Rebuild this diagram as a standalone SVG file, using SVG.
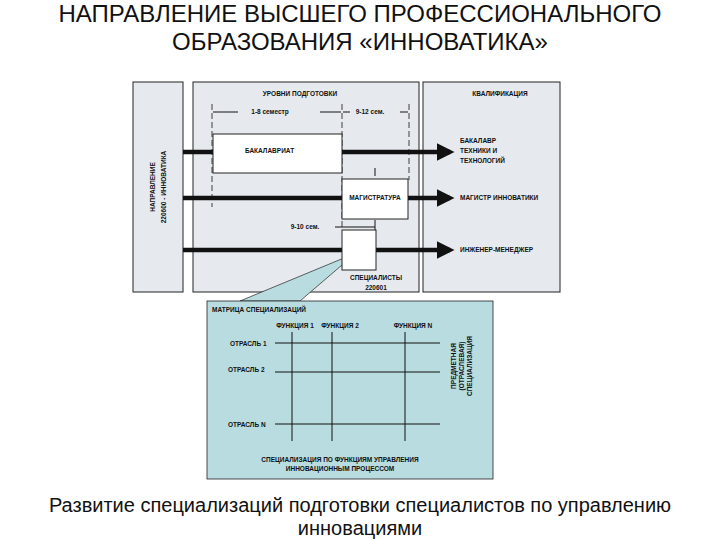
<svg xmlns="http://www.w3.org/2000/svg" width="720" height="540" viewBox="0 0 720 540">
<style>
.p{fill:#e6eaee;stroke:#222;stroke-width:1}
.b{fill:#fff;stroke:#222;stroke-width:1}
.t{font-family:"Liberation Sans",Arial,sans-serif;font-weight:bold;font-size:6.5px;fill:#111}
.th{stroke:#111;stroke-width:4.5}
.d{stroke:#111;stroke-width:0.8;stroke-dasharray:6,3}
.g{stroke:#111;stroke-width:1}
.big{font-family:"Liberation Sans",Arial,sans-serif;fill:#111}
</style>
<defs>
<marker id="ah" markerWidth="4" markerHeight="4" refX="3" refY="2" orient="auto" markerUnits="strokeWidth"><path d="M0,0 L4,2 L0,4 Z" fill="#111"/></marker>
</defs>
<rect width="720" height="540" fill="#fff"/>
<text class="big" font-size="24" x="360" y="22" text-anchor="middle">НАПРАВЛЕНИЕ ВЫСШЕГО ПРОФЕССИОНАЛЬНОГО</text>
<text class="big" font-size="24" x="360" y="50" text-anchor="middle">ОБРАЗОВАНИЯ «ИННОВАТИКА»</text>
<g id="panel-left"><rect class="p" x="133" y="82" width="50" height="210"/>
<text class="t" font-size="8.5" transform="translate(155,187) rotate(-90)" text-anchor="middle">НАПРАВЛЕНИЕ</text>
<text class="t" font-size="8.5" transform="translate(166,187) rotate(-90)" text-anchor="middle">220600 - ИННОВАТИКА</text></g>
<g id="panel-mid"><rect class="p" x="193" y="82" width="226" height="210"/>
<text class="t" font-size="7" x="300" y="96" text-anchor="middle">УРОВНИ ПОДГОТОВКИ</text></g>
<g id="panel-right"><rect class="p" x="423" y="82" width="137" height="210"/>
<text class="t" font-size="7" x="500" y="96" text-anchor="middle">КВАЛИФИКАЦИЯ</text></g>
<g id="connectors">
<line class="d" x1="212" y1="104" x2="212" y2="207"/>
<line class="d" x1="342" y1="104" x2="342" y2="230"/>
<line class="d" x1="409" y1="104" x2="409" y2="180"/>
<line class="g" x1="375" y1="168" x2="375" y2="176"/>
<line class="g" x1="375" y1="220" x2="375" y2="230"/>
<line class="g" x1="213" y1="112" x2="238" y2="112"/><line class="g" x1="320" y1="112" x2="341" y2="112"/>
<line class="g" x1="343" y1="112" x2="350" y2="112"/><line class="g" x1="400" y1="112" x2="408" y2="112"/>
<line class="g" x1="335" y1="227" x2="375" y2="227"/>
<line class="th" x1="183" y1="152" x2="213" y2="152"/>
<line class="th" x1="342" y1="152" x2="450" y2="152" marker-end="url(#ah)"/>
<line class="th" x1="183" y1="198" x2="342" y2="198"/>
<line class="th" x1="408" y1="198" x2="450" y2="198" marker-end="url(#ah)"/>
<line class="th" x1="183" y1="250" x2="342" y2="250"/>
<line class="th" x1="376" y1="250" x2="450" y2="250" marker-end="url(#ah)"/>
<polygon points="356,253 240,301 300,301" fill="#b8dcdf" stroke="#222" stroke-width="0.7"/>
</g>
<text class="t" x="270" y="114" text-anchor="middle">1-8 семестр</text>
<text class="t" x="370" y="114" text-anchor="middle">9-12 сем.</text>
<text class="t" x="305" y="229" text-anchor="middle">9-10 сем.</text>
<g id="bak"><rect class="b" x="213" y="134" width="129" height="39"/><text class="t" x="245" y="153">БАКАЛАВРИАТ</text></g>
<g id="mag"><rect class="b" x="342" y="179" width="66" height="40"/><text class="t" x="375" y="200" text-anchor="middle">МАГИСТРАТУРА</text></g>
<g id="spec"><rect class="b" x="342" y="230" width="34" height="40"/>
<text class="t" x="376" y="280" text-anchor="middle">СПЕЦИАЛИСТЫ</text><text class="t" x="376" y="290" text-anchor="middle">220601</text></g>
<g id="q1"><text class="t" x="460" y="143">БАКАЛАВР</text><text class="t" x="460" y="153">ТЕХНИКИ И</text><text class="t" x="460" y="163">ТЕХНОЛОГИЙ</text></g>
<g id="q2"><text class="t" x="460" y="200">МАГИСТР ИННОВАТИКИ</text></g>
<g id="q3"><text class="t" x="460" y="252">ИНЖЕНЕР-МЕНЕДЖЕР</text></g>
<g id="matrix">
<rect x="207" y="301" width="286" height="178" fill="#b8dcdf" stroke="#222" stroke-width="0.8"/>
<text class="t" x="212" y="312">МАТРИЦА СПЕЦИАЛИЗАЦИЙ</text>
<text class="t" x="295" y="328" text-anchor="middle">ФУНКЦИЯ 1</text>
<text class="t" x="340" y="328" text-anchor="middle">ФУНКЦИЯ 2</text>
<text class="t" x="413" y="328" text-anchor="middle">ФУНКЦИЯ  N</text>
<text class="t" x="230" y="346">ОТРАСЛЬ 1</text>
<text class="t" x="228" y="372">ОТРАСЛЬ 2</text>
<text class="t" x="228" y="427">ОТРАСЛЬ  N</text>
<g class="g"><line x1="275" y1="343" x2="440" y2="343"/><line x1="275" y1="372" x2="440" y2="372"/><line x1="275" y1="424" x2="440" y2="424"/>
<line x1="292" y1="332" x2="292" y2="441"/><line x1="332" y1="332" x2="332" y2="441"/><line x1="405" y1="332" x2="405" y2="441"/></g>
<text class="t" font-size="7" transform="translate(456,366) rotate(-90)" text-anchor="middle">ПРЕДМЕТНАЯ</text>
<text class="t" font-size="7" transform="translate(464,366) rotate(-90)" text-anchor="middle">(ОТРАСЛЕВАЯ)</text>
<text class="t" font-size="7" transform="translate(472,366) rotate(-90)" text-anchor="middle">СПЕЦИАЛИЗАЦИЯ</text>
<text class="t" x="340" y="462" text-anchor="middle">СПЕЦИАЛИЗАЦИЯ ПО ФУНКЦИЯМ УПРАВЛЕНИЯ</text>
<text class="t" x="340" y="471" text-anchor="middle">ИННОВАЦИОННЫМ ПРОЦЕССОМ</text>
</g>
<text class="big" font-size="20" x="360" y="512" text-anchor="middle">Развитие специализаций подготовки специалистов по управлению</text>
<text class="big" font-size="20" x="360" y="535" text-anchor="middle">инновациями</text>
</svg>
